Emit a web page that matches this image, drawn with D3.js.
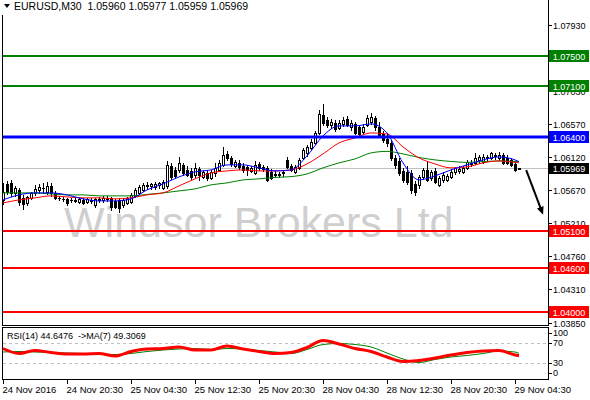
<!DOCTYPE html>
<html><head><meta charset="utf-8">
<script src="https://cdn.jsdelivr.net/npm/d3@7"></script>
<style>
body{margin:0;background:#fff}
svg{display:block}
text{font-family:"Liberation Sans",Arial,sans-serif;font-size:9px;fill:#000}
</style></head><body>
<script>
// ---------- DATA ----------
const symbolTitle = "EURUSD,M30  1.05960 1.05977 1.05959 1.05969";
const rsiTitle = "RSI(14) 44.6476  ->MA(7) 49.3069";
const watermark = "Windsor Brokers Ltd";

const open = [1.05533,1.05752,1.05766,1.05629,1.05670,1.05561,1.05492,1.05561,1.05629,1.05670,
1.05697,1.05643,1.05725,1.05629,1.05561,1.05547,1.05547,1.05533,1.05533,1.05506,
1.05533,1.05506,1.05519,1.05465,1.05547,1.05533,1.05561,1.05561,1.05519,1.05533,
1.05465,1.05492,1.05506,1.05588,1.05629,1.05670,1.05725,1.05725,1.05711,1.05739,
1.05697,1.05725,1.05999,1.05944,1.05944,1.06013,1.05944,1.05930,1.05876,1.05958,
1.05848,1.05903,1.05835,1.05903,1.05944,1.06013,1.06163,1.06109,1.05999,1.06040,
1.05999,1.05985,1.05930,1.05903,1.06026,1.05985,1.05972,1.05917,1.05889,1.05889,
1.05903,1.06081,1.05999,1.05917,1.05972,1.06109,1.06177,1.06246,1.06314,1.06451,
1.06698,1.06629,1.06561,1.06588,1.06520,1.06574,1.06643,1.06533,1.06574,1.06533,
1.06465,1.06561,1.06602,1.06657,1.06533,1.06437,1.06369,1.06314,1.06109,1.06067,
1.05930,1.05917,1.05903,1.05752,1.05739,1.05848,1.05944,1.05835,1.05930,1.05739,
1.05807,1.05807,1.05848,1.05917,1.05930,1.05917,1.05972,1.06040,1.06040,1.06081,
1.06054,1.06109,1.06109,1.06150,1.06109,1.06150,1.06109,1.06081,1.06026,1.05960];
const high = [1.05766,1.05793,1.05807,1.05725,1.05697,1.05602,1.05588,1.05643,1.05739,1.05752,
1.05766,1.05780,1.05766,1.05656,1.05588,1.05574,1.05561,1.05561,1.05561,1.05561,
1.05561,1.05561,1.05561,1.05561,1.05574,1.05588,1.05588,1.05574,1.05547,1.05561,
1.05547,1.05574,1.05629,1.05697,1.05739,1.05766,1.05780,1.05766,1.05780,1.05780,
1.05807,1.06067,1.06040,1.05985,1.06122,1.06040,1.05999,1.05972,1.06040,1.05985,
1.05944,1.05944,1.05944,1.06040,1.06081,1.06259,1.06204,1.06136,1.06081,1.06081,
1.06040,1.06013,1.05999,1.06067,1.06054,1.06013,1.05999,1.05958,1.05930,1.05917,
1.05944,1.06122,1.06026,1.06013,1.06109,1.06246,1.06287,1.06369,1.06478,1.06766,
1.06848,1.06670,1.06643,1.06629,1.06629,1.06670,1.06684,1.06629,1.06602,1.06561,
1.06574,1.06698,1.06725,1.06684,1.06602,1.06478,1.06437,1.06355,1.06150,1.06109,
1.05972,1.05999,1.05944,1.05793,1.05876,1.05972,1.06054,1.05944,1.05972,1.05862,
1.05917,1.05889,1.05958,1.05985,1.05999,1.05999,1.06081,1.06081,1.06177,1.06150,
1.06163,1.06150,1.06191,1.06177,1.06191,1.06177,1.06150,1.06109,1.06067,1.05977];
const low = [1.05478,1.05615,1.05588,1.05588,1.05465,1.05410,1.05465,1.05547,1.05602,1.05629,
1.05629,1.05615,1.05588,1.05547,1.05533,1.05519,1.05465,1.05506,1.05506,1.05492,
1.05478,1.05492,1.05492,1.05437,1.05506,1.05506,1.05519,1.05396,1.05424,1.05369,
1.05437,1.05478,1.05492,1.05574,1.05615,1.05656,1.05684,1.05684,1.05684,1.05697,
1.05684,1.05697,1.05821,1.05835,1.05917,1.05876,1.05862,1.05821,1.05848,1.05807,
1.05835,1.05807,1.05821,1.05862,1.05930,1.05999,1.06081,1.05999,1.05985,1.05958,
1.05917,1.05876,1.05917,1.05889,1.05944,1.05930,1.05793,1.05821,1.05848,1.05848,
1.05862,1.05972,1.05930,1.05903,1.05958,1.06095,1.06136,1.06232,1.06300,1.06437,
1.06561,1.06533,1.06520,1.06478,1.06506,1.06547,1.06547,1.06492,1.06437,1.06396,
1.06451,1.06547,1.06574,1.06492,1.06396,1.06328,1.06273,1.06081,1.05972,1.05876,
1.05780,1.05752,1.05629,1.05602,1.05697,1.05821,1.05793,1.05807,1.05766,1.05725,
1.05780,1.05793,1.05835,1.05889,1.05903,1.05903,1.05958,1.05999,1.06026,1.06040,
1.06040,1.06067,1.06095,1.06095,1.06081,1.06026,1.06026,1.05999,1.05930,1.05959];
const close = [1.05643,1.05643,1.05629,1.05697,1.05506,1.05478,1.05574,1.05629,1.05684,1.05711,
1.05697,1.05725,1.05629,1.05561,1.05561,1.05547,1.05492,1.05533,1.05519,1.05547,
1.05492,1.05547,1.05533,1.05547,1.05533,1.05561,1.05547,1.05437,1.05437,1.05424,
1.05533,1.05561,1.05602,1.05670,1.05711,1.05739,1.05739,1.05752,1.05752,1.05766,
1.05780,1.06013,1.05848,1.05862,1.06040,1.05903,1.05876,1.05848,1.05972,1.05876,
1.05917,1.05835,1.05917,1.05972,1.06040,1.06150,1.06109,1.06026,1.06054,1.05985,
1.05944,1.05944,1.05972,1.06013,1.05972,1.05958,1.05807,1.05835,1.05876,1.05876,
1.05917,1.05985,1.05944,1.05985,1.06081,1.06218,1.06259,1.06328,1.06451,1.06711,
1.06588,1.06561,1.06602,1.06506,1.06588,1.06629,1.06561,1.06588,1.06451,1.06437,
1.06533,1.06657,1.06670,1.06533,1.06424,1.06355,1.06314,1.06109,1.06013,1.05903,
1.05807,1.05780,1.05670,1.05643,1.05848,1.05944,1.05807,1.05917,1.05780,1.05835,
1.05876,1.05862,1.05917,1.05972,1.05958,1.05972,1.06054,1.06026,1.06109,1.06122,
1.06122,1.06122,1.06177,1.06136,1.06150,1.06040,1.06040,1.06013,1.05944,1.05969];

// indicator readings, sampled at these bar indices
const sampleBars = [0,4,8,12,16,20,24,28,32,36,40,44,48,52,56,60,64,68,72,76,80,84,88,92,96,100,104,108,112,116,120,124,128,129];
const maFast = [1.05533,1.05602,1.05629,1.05629,1.05602,1.05547,1.05519,1.05519,1.05547,1.05670,1.05752,1.05848,1.05917,1.05944,1.06013,1.06013,1.05972,1.05930,1.05944,1.06136,1.06410,1.06547,1.06547,1.06574,1.06451,1.06040,1.05807,1.05862,1.05944,1.06013,1.06081,1.06122,1.06081,1.06058];
const maMid = [1.05492,1.05533,1.05561,1.05588,1.05574,1.05561,1.05561,1.05547,1.05561,1.05602,1.05629,1.05725,1.05821,1.05903,1.05930,1.05944,1.05930,1.05930,1.05944,1.06026,1.06163,1.06314,1.06383,1.06451,1.06437,1.06259,1.06109,1.06026,1.05972,1.05985,1.06040,1.06067,1.06047,1.06040];
const maSlow = [1.05629,1.05629,1.05629,1.05615,1.05602,1.05602,1.05588,1.05588,1.05588,1.05608,1.05629,1.05656,1.05684,1.05739,1.05766,1.05807,1.05821,1.05841,1.05852,1.05889,1.05972,1.06040,1.06095,1.06177,1.06198,1.06163,1.06115,1.06081,1.06060,1.06047,1.06058,1.06067,1.06060,1.06060];
const rsi = [59,49,55,51,48,48,49,44,53,58,59,62,56,56,64,58,53,49,51,61,75,68,59,53,42,33,35,40,46,51,54,55,46,44.65];
const rsiMa = [52,53,52,51,50,49,48,47,49,53,56,58,59,57,59,58,55,52,49,57,67,69,67,62,50,38,31,37,42,45,49,54,52,49.31];

const priceTicks = [1.07930,1.07030,1.06570,1.06120,1.05670,1.05210,1.04760,1.04310,1.03850];
const levels = [1.07500,1.07100,1.06400,1.05100,1.04600,1.04000];
const levelColors = ["#008000","#008000","#0000ff","#ff0000","#ff0000","#ff0000"];
const levelWidths = [2,2,3,2,2,2];
const lastPrice = 1.05969;
const rsiTicks = [100,70,30,0];
const rsiLevels = [70,30];
const xTickBars = [0,16,32,48,64,80,96,112,128];
const xTickLabels = ["24 Nov 2016","24 Nov 20:30","25 Nov 04:30","25 Nov 12:30","25 Nov 20:30","28 Nov 04:30","28 Nov 12:30","28 Nov 20:30","29 Nov 04:30"];
const arrowBars = [130.8,134.4];
const arrowPrices = [1.05940,1.05420];

// ---------- CHART ----------
const W=590,H=400;
const svg=d3.select("body").append("svg").attr("width",W).attr("height",H);
const x=d3.scaleLinear().domain([0,129]).range([3,519]);
const y=d3.scaleLinear().domain([1.03850,1.07930]).range([322.7,25]);
const ry=d3.scaleLinear().domain([0,100]).range([378,328]);
const px=i=>Math.round(x(i));

// watermark
svg.append("text").attr("x",64).attr("y",237).text(watermark)
  .style("font-size","43px").style("fill","#cfcfcf");

// current price line
svg.append("line").attr("x1",2).attr("x2",548).attr("y1",Math.round(y(lastPrice))+0.5).attr("y2",Math.round(y(lastPrice))+0.5)
  .attr("stroke","#c0c0c0").attr("stroke-width",1);

// candles
const gC=svg.append("g");
d3.range(open.length).forEach(i=>{
  const cx=px(i), o=open[i], c=close[i];
  gC.append("line").attr("x1",cx+0.5).attr("x2",cx+0.5)
    .attr("y1",Math.round(y(high[i]))).attr("y2",Math.round(y(low[i]))+1)
    .attr("stroke","#000").attr("stroke-width",1);
  const t=Math.round(y(Math.max(o,c))), b=Math.round(y(Math.min(o,c)));
  if(b-t<1){
    gC.append("line").attr("x1",cx-1).attr("x2",cx+2).attr("y1",t+0.5).attr("y2",t+0.5)
      .attr("stroke","#000");
  } else if(c>o){
    gC.append("rect").attr("x",cx-0.5).attr("y",t+0.5).attr("width",2).attr("height",b-t)
      .attr("fill","#fff").attr("stroke","#000").attr("stroke-width",1);
  } else {
    gC.append("rect").attr("x",cx-1).attr("y",t).attr("width",3).attr("height",b-t+1)
      .attr("fill","#000");
  }
});

// moving averages
const lineP=d3.line().x(d=>x(d[0])).y(d=>y(d[1])).curve(d3.curveMonotoneX);
[[maSlow,"#008000"],[maMid,"#ff0000"],[maFast,"#0000ff"]].forEach(([arr,col])=>{
  svg.append("path").attr("d",lineP(sampleBars.map((b,k)=>[b,arr[k]])))
    .attr("fill","none").attr("stroke",col).attr("stroke-width",1);
});

// horizontal levels
levels.forEach((v,k)=>{
  const yy=Math.round(y(v));
  svg.append("line").attr("x1",2).attr("x2",548).attr("y1",yy).attr("y2",yy)
    .attr("stroke",levelColors[k]).attr("stroke-width",levelWidths[k]);
});

// arrow
svg.append("defs").append("marker").attr("id","ah").attr("markerUnits","userSpaceOnUse")
  .attr("markerWidth",10).attr("markerHeight",8).attr("refX",1).attr("refY",3.5).attr("orient","auto")
  .append("path").attr("d","M0,0 L8,3.5 L0,7 Z").attr("fill","#000");
svg.append("line").attr("x1",x(arrowBars[0])).attr("y1",y(arrowPrices[0]))
  .attr("x2",x(arrowBars[1])).attr("y2",y(arrowPrices[1]))
  .attr("stroke","#000").attr("stroke-width",2).attr("marker-end","url(#ah)");

// frame
svg.append("line").attr("x1",2.5).attr("x2",2.5).attr("y1",15).attr("y2",326).attr("stroke","#000");
svg.append("line").attr("x1",548.5).attr("x2",548.5).attr("y1",0).attr("y2",326).attr("stroke","#000");
svg.append("line").attr("x1",2).attr("x2",549).attr("y1",325.5).attr("y2",325.5).attr("stroke","#000");
svg.append("rect").attr("x",2.5).attr("y",327.5).attr("width",546).attr("height",52)
  .attr("fill","none").attr("stroke","#000");

// header
svg.append("path").attr("d","M4,4 L10,4 L7,8 Z").attr("fill","#000");
svg.append("text").attr("x",14).attr("y",10).style("white-space","pre").style("font-size","10.5px").text(symbolTitle);

// price axis
priceTicks.forEach(v=>{
  const yy=Math.round(y(v))+0.5;
  svg.append("line").attr("x1",548).attr("x2",552).attr("y1",yy).attr("y2",yy).attr("stroke","#000");
  svg.append("text").attr("x",553).attr("y",yy+3).text(v.toFixed(5));
});
levels.forEach((v,k)=>{
  const yy=Math.round(y(v));
  svg.append("rect").attr("x",549).attr("y",yy-6).attr("width",40).attr("height",12).attr("fill",levelColors[k]);
  svg.append("text").attr("x",569).attr("y",yy+3.5).attr("text-anchor","middle").style("fill","#fff").text(v.toFixed(5));
});
{
  const yy=Math.round(y(lastPrice));
  svg.append("rect").attr("x",549).attr("y",yy-5).attr("width",40).attr("height",11).attr("fill","#000");
  svg.append("text").attr("x",569).attr("y",yy+4).attr("text-anchor","middle").style("fill","#fff").text(lastPrice.toFixed(5));
}

// RSI panel
rsiLevels.forEach(v=>{
  svg.append("line").attr("x1",3).attr("x2",548).attr("y1",Math.round(ry(v))+0.5).attr("y2",Math.round(ry(v))+0.5)
    .attr("stroke","#c0c0c0").attr("stroke-dasharray","3,3");
});
const lineR=d3.line().x(d=>x(d[0])).y(d=>ry(d[1])).curve(d3.curveMonotoneX);
svg.append("path").attr("d",lineR(sampleBars.map((b,k)=>[b,rsiMa[k]])))
  .attr("fill","none").attr("stroke","#008000").attr("stroke-width",1);
svg.append("path").attr("d",lineR(sampleBars.map((b,k)=>[b,rsi[k]])))
  .attr("fill","none").attr("stroke","#ff0000").attr("stroke-width",3).attr("stroke-linejoin","round");
svg.append("text").attr("x",7).attr("y",339).style("white-space","pre").text(rsiTitle);
rsiTicks.forEach(v=>{
  const yy=Math.max(333,Math.min(373,ry(v)));
  svg.append("line").attr("x1",548).attr("x2",552).attr("y1",Math.round(yy)+0.5).attr("y2",Math.round(yy)+0.5).attr("stroke","#000");
  svg.append("text").attr("x",553).attr("y",yy+3).text(v);
});

// time axis
xTickBars.forEach((b,k)=>{
  const xx=px(b)+0.5;
  svg.append("line").attr("x1",xx).attr("x2",xx).attr("y1",380).attr("y2",384).attr("stroke","#000");
  svg.append("text").attr("x",xx-1).attr("y",393).style("font-size","9.5px").text(xTickLabels[k]);
});
</script></body></html>
